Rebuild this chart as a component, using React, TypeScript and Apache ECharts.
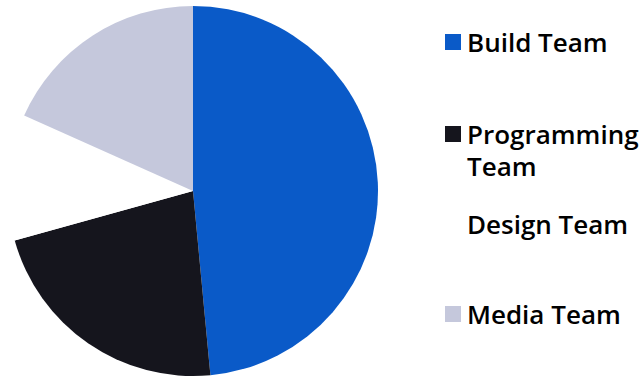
import React, { useEffect, useRef } from "react";
import * as echarts from "echarts";

const categories = ["Build Team", "Programming Team", "Design Team", "Media Team"];
const values = [48.5, 22.2, 11.0, 18.3];
const colors = ["#0a5ac8", "#15151d", "#ffffff", "#c5c8dc"];
const legendTops = [21, 81, 203, 293];

export default function App() {
  const ref = useRef<HTMLDivElement>(null);
  useEffect(() => {
    document.body.style.margin = "0";
    if (!ref.current) return;
    const chart = echarts.init(ref.current, null, { renderer: "svg" });
    const font = {
      fontFamily: "Open Sans",
      fontWeight: 600,
      fontSize: 26,
      color: "#000000",
      lineHeight: 32,
    };
    const legends = categories.map((name, i) => ({
      orient: "vertical",
      left: 440,
      top: legendTops[i],
      itemWidth: 16,
      itemHeight: 16,
      icon: "rect",
      selectedMode: false,
      data: [{ name, itemStyle: { color: colors[i] } }],
      formatter: (n: string) =>
        n === "Programming Team" ? "\nProgramming\nTeam" : n,
      textStyle: { ...font, padding: [0, 0, 0, 1] },
    }));
    chart.setOption({
      animation: false,
      legend: legends,
      series: [
        {
          type: "pie",
          center: [193, 191],
          radius: 185,
          startAngle: 90,
          clockwise: true,
          label: { show: false },
          labelLine: { show: false },
          itemStyle: { borderWidth: 0 },
          emphasis: { disabled: true },
          data: categories.map((name, i) => ({
            name,
            value: values[i],
            itemStyle: { color: colors[i] },
          })),
        },
      ],
    });
    return () => chart.dispose();
  }, []);
  return <div ref={ref} style={{ width: 640, height: 377 }} />;
}
